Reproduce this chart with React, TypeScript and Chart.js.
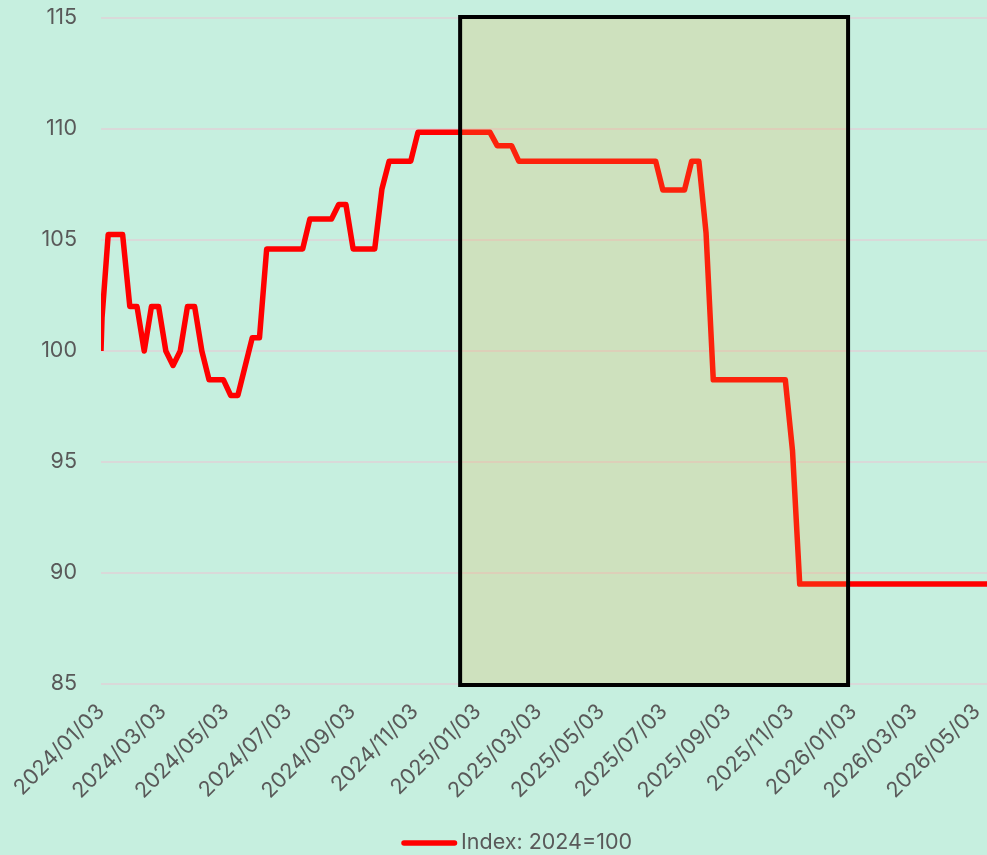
import React, { useEffect, useRef } from 'react';
import { Chart, registerables } from 'chart.js';

Chart.register(...registerables);

// ---- data ----
const axisStart = '2024-01-03';
const axisEnd = '2026-05-13';

const dates = [
  '2024-01-03', '2024-01-04', '2024-01-10', '2024-01-24', '2024-01-31', '2024-02-07',
  '2024-02-14', '2024-02-21', '2024-02-28', '2024-03-06', '2024-03-13', '2024-03-20',
  '2024-03-27', '2024-04-03', '2024-04-10', '2024-04-17', '2024-05-01', '2024-05-08',
  '2024-05-15', '2024-05-22', '2024-05-29', '2024-06-05', '2024-06-12', '2024-07-17',
  '2024-07-24', '2024-08-14', '2024-08-21', '2024-08-28', '2024-09-04', '2024-09-25',
  '2024-10-02', '2024-10-09', '2024-10-30', '2024-11-06', '2025-01-15', '2025-01-22',
  '2025-02-05', '2025-02-12', '2025-06-25', '2025-07-02', '2025-07-23', '2025-07-30',
  '2025-08-06', '2025-08-13', '2025-08-20', '2025-10-29', '2025-11-05', '2025-11-12',
  '2026-05-13',
];

const values = [
  100, 101.5, 105.25, 105.25, 102, 102,
  100, 102, 102, 100, 99.35, 100,
  102, 102, 100, 98.7, 98.7, 98,
  98, 99.3, 100.6, 100.6, 104.6, 104.6,
  105.95, 105.95, 106.6, 106.6, 104.6, 104.6,
  107.3, 108.55, 108.55, 109.85, 109.85, 109.25,
  109.25, 108.55, 108.55, 107.25, 107.25, 108.55,
  108.55, 105.3, 98.7, 98.7, 95.5, 89.5,
  89.5,
];

const xTickDates = [
  '2024-01-03', '2024-03-03', '2024-05-03', '2024-07-03', '2024-09-03', '2024-11-03',
  '2025-01-03', '2025-03-03', '2025-05-03', '2025-07-03', '2025-09-03', '2025-11-03',
  '2026-01-03', '2026-03-03', '2026-05-03',
];

const yTicks = [85, 90, 95, 100, 105, 110, 115];

const highlightStart = '2024-12-17';
const highlightEnd = '2025-12-29';
const highlightLow = 85;
const highlightHigh = 115;

const seriesLabel = 'Index: 2024=100';

// ---- helpers ----
const DAY_MS = 86400000;
const utc = (s: string) => {
  const [y, m, d] = s.split('-').map(Number);
  return Date.UTC(y, m - 1, d);
};
const toDay = (s: string) => Math.round((utc(s) - utc(axisStart)) / DAY_MS);
const fmt = (s: string) => s.replace(/-/g, '/');

const BG = '#C6EFDF';
const TEXT = '#595959';
const FONT_FAMILY = 'Inter, "Noto Sans", sans-serif';
const FONT_SIZE = 21.5;

const backgroundPlugin = {
  id: 'bgFill',
  beforeDraw(chart: any) {
    const { ctx, width, height } = chart;
    ctx.save();
    ctx.fillStyle = BG;
    ctx.fillRect(0, 0, width, height);
    ctx.restore();
  },
};

const highlightPlugin = {
  id: 'highlightBox',
  afterDatasetsDraw(chart: any) {
    const { ctx, scales } = chart;
    const x1 = scales.x.getPixelForValue(toDay(highlightStart));
    const x2 = scales.x.getPixelForValue(toDay(highlightEnd));
    const y1 = scales.y.getPixelForValue(highlightHigh) - 1;
    const y2 = scales.y.getPixelForValue(highlightLow) + 1;
    ctx.save();
    ctx.fillStyle = 'rgba(240, 170, 60, 0.2)';
    ctx.fillRect(x1, y1, x2 - x1, y2 - y1);
    ctx.strokeStyle = '#000000';
    ctx.lineWidth = 4;
    ctx.strokeRect(x1, y1, x2 - x1, y2 - y1);
    ctx.restore();
  },
};

const legendPlugin = {
  id: 'customLegend',
  afterDraw(chart: any) {
    const { ctx } = chart;
    const ds = chart.data.datasets[0];
    const y = 843;
    ctx.save();
    ctx.strokeStyle = ds.borderColor;
    ctx.lineWidth = 5.5;
    ctx.lineCap = 'round';
    ctx.beginPath();
    ctx.moveTo(404, y);
    ctx.lineTo(454.5, y);
    ctx.stroke();
    ctx.fillStyle = TEXT;
    ctx.font = `${FONT_SIZE}px ${FONT_FAMILY}`;
    ctx.textBaseline = 'middle';
    ctx.textAlign = 'left';
    ctx.fillText(ds.label, 461, y);
    ctx.restore();
  },
};

export default function App() {
  const canvasRef = useRef<HTMLCanvasElement | null>(null);

  useEffect(() => {
    document.body.style.margin = '0';
    document.body.style.background = BG;
    const canvas = canvasRef.current;
    if (!canvas) return;

    const points = dates.map((d, i) => ({ x: toDay(d), y: values[i] }));

    const chart = new Chart(canvas, {
      type: 'line',
      data: {
        datasets: [
          {
            label: seriesLabel,
            data: points,
            borderColor: '#FF0000',
            backgroundColor: '#FF0000',
            borderWidth: 5.5,
            pointRadius: 0,
            tension: 0,
            fill: false,
            borderJoinStyle: 'round',
          },
        ],
      },
      options: {
        animation: false,
        responsive: false,
        maintainAspectRatio: false,
        layout: { padding: { top: 18, left: 0, right: 0, bottom: 0 } },
        plugins: {
          legend: { display: false },
          tooltip: { enabled: false },
        },
        scales: {
          x: {
            type: 'linear',
            min: 0,
            max: toDay(axisEnd),
            afterBuildTicks: (scale: any) => {
              scale.ticks = xTickDates.map((d) => ({ value: toDay(d) }));
            },
            afterFit: (scale: any) => {
              scale.height = 171;
              scale.paddingLeft = 0;
              scale.paddingRight = 0;
              scale.paddingTop = 0;
              scale.paddingBottom = 0;
            },
            ticks: {
              autoSkip: false,
              minRotation: 45,
              maxRotation: 45,
              padding: 15,
              color: TEXT,
              font: { family: FONT_FAMILY, size: FONT_SIZE },
              callback: (_v: any, i: number) => fmt(xTickDates[i]),
            },
            grid: { display: false, drawTicks: false },
            border: { display: false },
          },
          y: {
            min: 85,
            max: 115,
            afterBuildTicks: (scale: any) => {
              scale.ticks = yTicks.map((v) => ({ value: v }));
            },
            afterFit: (scale: any) => {
              scale.width = 101;
              scale.paddingTop = 0;
              scale.paddingBottom = 0;
            },
            ticks: {
              padding: 24,
              color: TEXT,
              font: { family: FONT_FAMILY, size: FONT_SIZE },
            },
            grid: { color: '#D9D9D9', lineWidth: 2, drawTicks: false },
            border: { display: false },
          },
        },
      },
      plugins: [backgroundPlugin, highlightPlugin, legendPlugin],
    } as any);

    return () => chart.destroy();
  }, []);

  return (
    <div style={{ position: 'fixed', left: 0, top: 0, width: 987, height: 855, overflow: 'hidden', background: BG }}>
      <canvas ref={canvasRef} width={987} height={855} style={{ display: 'block', width: 987, height: 855 }} />
    </div>
  );
}
